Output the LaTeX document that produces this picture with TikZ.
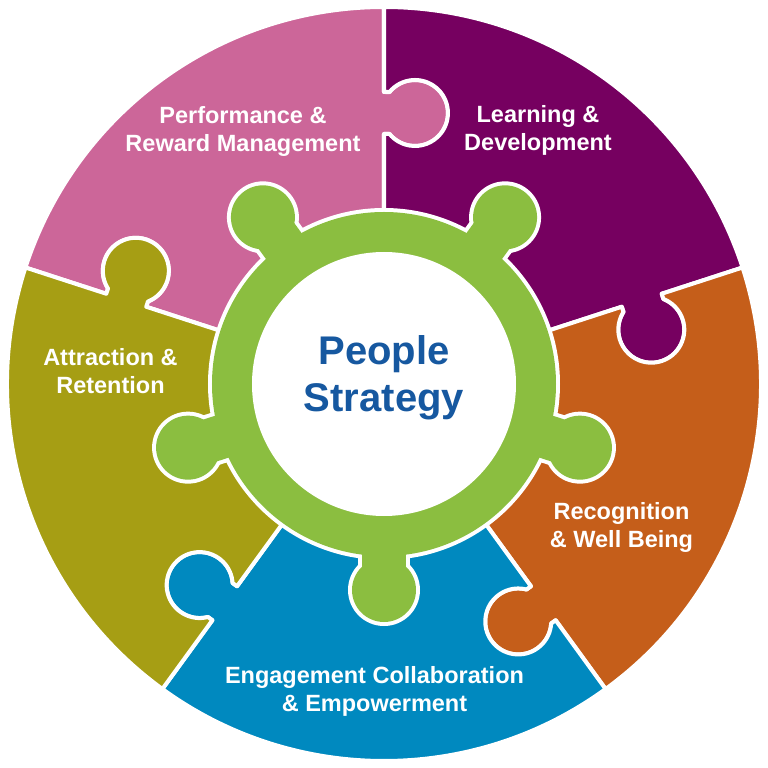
\documentclass[tikz,border=0pt]{standalone}
\usepackage{fontspec}
\setmainfont{Liberation Sans}
\usepackage{xcolor}

\definecolor{pinkpc}{HTML}{CC6699}
\definecolor{purplepc}{HTML}{760060}
\definecolor{orangepc}{HTML}{C55E1A}
\definecolor{bluepc}{HTML}{0089BF}
\definecolor{olivepc}{HTML}{A69E14}
\definecolor{greenpc}{HTML}{8BBE40}
\definecolor{textblue}{HTML}{1658A0}

% puzzle tab on the boundary at angle #1 (out and back)
\newcommand{\tabout}[1]{-- (#1:250) -- ([rotate=#1]250,-5.5) arc[start angle={#1+129.5}, end angle={#1+410.5}, radius=33] -- (#1:292)}
\newcommand{\tabin}[1]{-- (#1:292) -- ([rotate=#1]292,-5.5) arc[start angle={#1+410.5}, end angle={#1+129.5}, radius=33] -- (#1:250)}

\begin{document}
\begin{tikzpicture}[x=1pt, y=1pt,
    piece/.style={draw=white, line width=4pt, line join=round},
    lbl/.style={text=white, align=center, font=\bfseries\fontsize{23.5pt}{28pt}\selectfont},
    core/.style={text=textblue, align=center, font=\bfseries\fontsize{40pt}{47pt}\selectfont}]
    \useasboundingbox (-384,-384) rectangle (384,384);

    % Pieces
    \filldraw[piece, fill=pinkpc] (0,0) \tabout{90} -- (90:377) arc[start angle=90, end angle=162, radius=377] \tabin{162} -- cycle;
    \filldraw[piece, fill=purplepc] (0,0) \tabout{18} -- (18:377) arc[start angle=18, end angle=90, radius=377] \tabin{90} -- cycle;
    \filldraw[piece, fill=orangepc] (0,0) \tabout{-54} -- (-54:377) arc[start angle=-54, end angle=18, radius=377] \tabin{18} -- cycle;
    \filldraw[piece, fill=bluepc] (0,0) \tabout{-126} -- (-126:377) arc[start angle=-126, end angle=-54, radius=377] \tabin{-54} -- cycle;
    \filldraw[piece, fill=olivepc] (0,0) \tabout{162} -- (162:377) arc[start angle=162, end angle=234, radius=377] \tabin{234} -- cycle;

    % Hub
    \fill[white] (0,0) circle[radius=176];
    \foreach \a in {-90,-18,54,126,198} {
        \fill[white] (\a:206) circle[radius=36];
        \fill[white, rotate=\a] (160,-26) rectangle (194,26);
    }
    \fill[greenpc] (0,0) circle[radius=172];
    \foreach \a in {-90,-18,54,126,198} {
        \fill[greenpc] (\a:206) circle[radius=32];
        \fill[greenpc, rotate=\a] (160,-22) rectangle (190,22);
    }
    \fill[white] (0,0) circle[radius=132];

    % Labels
    \node[core] (people) at (0,6.5) {People\\Strategy};
    \node[lbl] (perf) at (-141,253) {Performance \&\\Reward Management};
    \node[lbl] (learn) at (154,253.5) {Learning \&\\Development};
    \node[lbl] (attr) at (-273.5,12.5) {Attraction \&\\Retention};
    \node[lbl] (recog) at (237.5,-143) {Recognition\\\& Well Being};
    \node[lbl] (engage) at (-9.5,-307.5) {Engagement Collaboration\\\& Empowerment};
\end{tikzpicture}
\end{document}
